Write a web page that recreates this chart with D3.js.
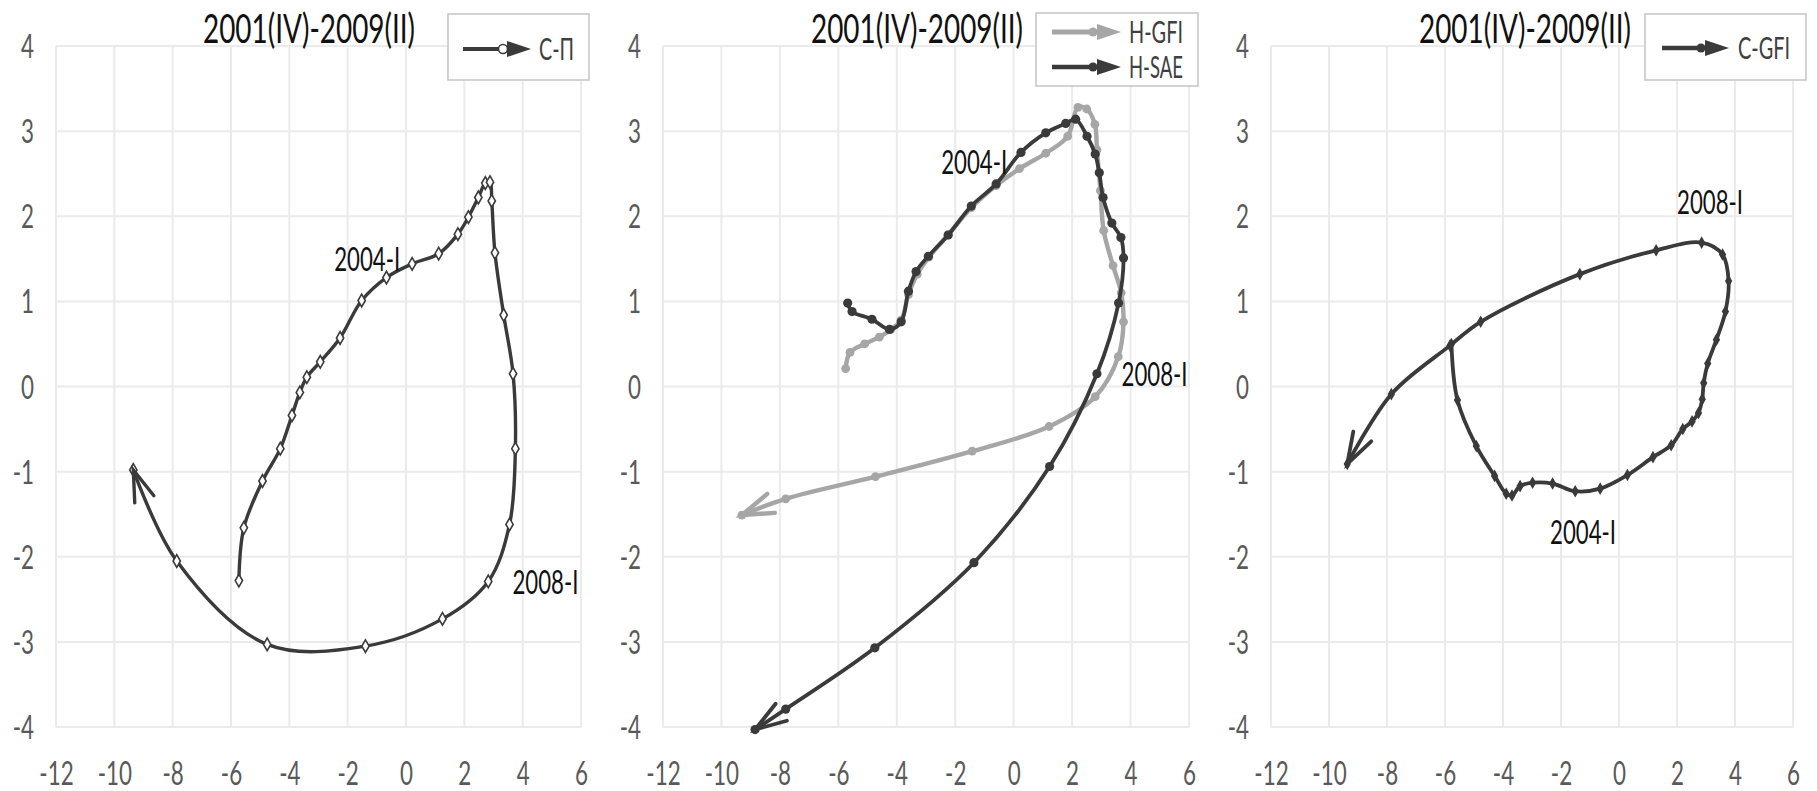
<!DOCTYPE html>
<html><head><meta charset="utf-8">
<script src="https://cdn.jsdelivr.net/npm/d3@7"></script>
<style>html,body{margin:0;padding:0;background:#fff;} svg{display:block;}</style>
</head><body>
<svg id="chart" width="1817" height="791"></svg>
<script>
// ---------- data ----------
const xTicks = [-12,-10,-8,-6,-4,-2,0,2,4,6];
const yTicks = [-4,-3,-2,-1,0,1,2,3,4];
const periodTitle = "2001(IV)-2009(II)";

// Panel 1: С-П
const cpX = [-5.73,-5.56,-4.92,-4.31,-3.91,-3.64,-3.40,-2.94,-2.26,-1.52,-0.67,0.21,1.12,1.78,2.14,2.48,2.72,2.88,2.94,3.05,3.35,3.67,3.75,3.55,2.82,1.25,-1.39,-4.76,-7.86,-9.35];
const cpY = [-2.28,-1.66,-1.11,-0.73,-0.34,-0.07,0.11,0.29,0.57,1.01,1.28,1.44,1.56,1.79,1.99,2.22,2.39,2.40,2.18,1.57,0.84,0.15,-0.73,-1.62,-2.29,-2.73,-3.05,-3.03,-2.05,-0.98];

// Panel 2: H-GFI (grey) and H-SAE (dark)
const hgfiX = [-5.75,-5.60,-5.10,-4.60,-4.20,-3.85,-3.60,-3.30,-2.90,-2.25,-1.45,-0.60,0.20,1.10,1.85,2.20,2.50,2.78,2.85,2.97,3.08,3.40,3.68,3.76,3.58,2.79,1.21,-1.42,-4.73,-7.80,-9.30];
const hgfiY = [0.21,0.40,0.50,0.58,0.67,0.78,1.08,1.32,1.52,1.78,2.10,2.36,2.56,2.74,2.94,3.28,3.26,3.08,2.78,2.30,1.83,1.42,1.10,0.76,0.35,-0.12,-0.47,-0.76,-1.06,-1.32,-1.51];
const hsaeX = [-5.68,-5.53,-4.85,-4.25,-3.85,-3.60,-3.34,-2.92,-2.24,-1.45,-0.60,0.25,1.10,1.78,2.12,2.51,2.79,2.93,3.06,3.36,3.67,3.76,3.59,2.85,1.23,-1.36,-4.75,-7.80,-8.85];
const hsaeY = [0.98,0.88,0.79,0.67,0.76,1.12,1.35,1.53,1.78,2.12,2.38,2.75,2.98,3.09,3.14,2.94,2.73,2.51,2.22,1.92,1.75,1.51,0.98,0.15,-0.94,-2.07,-3.07,-3.79,-4.03];

// Panel 3: C-GFI
const cgfiX = [-5.78,-5.57,-4.92,-4.29,-3.89,-3.69,-3.41,-2.98,-2.29,-1.51,-0.65,0.29,1.17,1.80,2.20,2.52,2.74,2.87,2.92,3.06,3.36,3.67,3.78,3.57,2.85,1.28,-1.35,-4.77,-5.83,-7.85,-9.37];
const cgfiY = [0.50,-0.16,-0.70,-1.05,-1.26,-1.28,-1.17,-1.13,-1.14,-1.23,-1.20,-1.04,-0.83,-0.69,-0.50,-0.41,-0.31,-0.15,0.04,0.27,0.55,0.88,1.24,1.55,1.69,1.60,1.32,0.76,0.48,-0.09,-0.91];

const seriesNames = ["С-П","H-GFI","H-SAE","C-GFI"];
const labels = ["2004-I","2008-I"];

// ---------- layout ----------
const DARK = "#3a3a3a", GREY = "#a6a6a6";
const FONT = "Lato, 'Open Sans', sans-serif";
const panels = [
  {x0:56, x1:581, titleX:309,
   legend:{x:448,y:14,w:141,h:66, lx0:463, tip:531, tx:539, rows:[49]},
   series:[{name:seriesNames[0], xs:cpX, ys:cpY, color:DARK, width:3.4, marker:"open", r:3.3}],
   notes:[{t:labels[0], x:-1.33, y:1.49},{t:labels[1], x:4.78, y:-2.30}], legendW:[35]},
  {x0:663, x1:1189, titleX:917,
   legend:{x:1036,y:13,w:162,h:73, lx0:1052, tip:1121, tx:1129, rows:[32,67]},
   series:[{name:seriesNames[1], xs:hgfiX, ys:hgfiY, color:GREY, width:4.4, marker:"fill", r:4.4},
           {name:seriesNames[2], xs:hsaeX, ys:hsaeY, color:DARK, width:3.8, marker:"fill", r:4.6}],
   notes:[{t:labels[0], x:-1.35, y:2.63},{t:labels[1], x:4.82, y:0.14}], legendW:[54,54]},
  {x0:1271, x1:1793, titleX:1525,
   legend:{x:1645,y:14,w:161,h:66, lx0:1662, tip:1729, tx:1738, rows:[48]},
   series:[{name:seriesNames[3], xs:cgfiX, ys:cgfiY, color:DARK, width:3.8, marker:"diamond", r:3.5}],
   notes:[{t:labels[1], x:3.14, y:2.16},{t:labels[0], x:-1.24, y:-1.72}], legendW:[52]}
];

const svg = d3.select("#chart");
svg.append("rect").attr("width",1817).attr("height",791).attr("fill","#fff");

function squeezeRatio(sel, ratio){
  sel.each(function(){
    const w = this.getComputedTextLength();
    d3.select(this).attr("textLength", w*ratio).attr("lengthAdjust","spacingAndGlyphs");
  });
}
function squeezeTo(sel, width){
  sel.attr("textLength", width).attr("lengthAdjust","spacingAndGlyphs");
}

panels.forEach(p => {
  const g = svg.append("g");
  const x = d3.scaleLinear().domain([-12,6]).range([p.x0,p.x1]);
  const y = d3.scaleLinear().domain([-4,4]).range([727,46]);

  // grid
  g.append("g").selectAll("line").data(xTicks).join("line")
    .attr("x1",d=>x(d)).attr("x2",d=>x(d)).attr("y1",y(4)).attr("y2",y(-4))
    .attr("stroke","#ebebeb").attr("stroke-width",2);
  g.append("g").selectAll("line").data(yTicks).join("line")
    .attr("y1",d=>y(d)).attr("y2",d=>y(d)).attr("x1",x(-12)).attr("x2",x(6))
    .attr("stroke","#ebebeb").attr("stroke-width",2);

  // axes
  const ax = g.append("g").attr("transform","translate(0,773)")
    .call(d3.axisBottom(x).tickValues(xTicks).tickSize(0).tickPadding(0).tickFormat(d=>String(d)));
  ax.select(".domain").remove();
  ax.selectAll("text").attr("y",0).attr("dy","0.36em")
    .attr("fill","#595959").style("font-family",FONT).style("font-size","32px");
  squeezeRatio(ax.selectAll("text"), 0.70);

  const ay = g.append("g").attr("transform",`translate(${p.x0},0)`)
    .call(d3.axisLeft(y).tickValues(yTicks).tickSize(0).tickPadding(22).tickFormat(d=>String(d)));
  ay.select(".domain").remove();
  ay.selectAll("text").attr("dy","0.36em")
    .attr("fill","#595959").style("font-family",FONT).style("font-size","32px");
  squeezeRatio(ay.selectAll("text"), 0.70);

  // series
  const line = d3.line().x(d=>x(d[0])).y(d=>y(d[1])).curve(d3.curveCatmullRom.alpha(0.5));
  p.series.forEach(s => {
    const pts = s.xs.map((v,i)=>[v, s.ys[i]]);
    const path = g.append("path").datum(pts).attr("d",line)
      .attr("fill","none").attr("stroke",s.color).attr("stroke-width",s.width)
      .attr("stroke-linejoin","round").attr("stroke-linecap","round");
    // markers
    const mk = g.append("g");
    if (s.marker === "open") {
      mk.selectAll("path").data(pts).join("path")
        .attr("d", d3.symbol(d3.symbolDiamond, 46))
        .attr("transform",d=>`translate(${x(d[0])},${y(d[1])})`)
        .attr("fill","#fff").attr("stroke",s.color).attr("stroke-width",1.6);
    } else if (s.marker === "fill") {
      mk.selectAll("circle").data(pts).join("circle")
        .attr("cx",d=>x(d[0])).attr("cy",d=>y(d[1])).attr("r",s.r)
        .attr("fill",s.color);
    } else {
      mk.selectAll("path").data(pts).join("path")
        .attr("d", d3.symbol(d3.symbolDiamond, 46))
        .attr("transform",d=>`translate(${x(d[0])},${y(d[1])})`)
        .attr("fill",s.color);
    }
    // arrow head at end
    const node = path.node();
    const L = node.getTotalLength();
    const a = node.getPointAtLength(L), b = node.getPointAtLength(Math.max(0,L-8));
    const ang = Math.atan2(b.y - a.y, b.x - a.x);
    const len = 33, spread = 18*Math.PI/180;
    const p1 = [a.x + len*Math.cos(ang+spread), a.y + len*Math.sin(ang+spread)];
    const p2 = [a.x + len*Math.cos(ang-spread), a.y + len*Math.sin(ang-spread)];
    g.append("path").attr("d",`M${p1[0]},${p1[1]}L${a.x},${a.y}L${p2[0]},${p2[1]}`)
      .attr("fill","none").attr("stroke",s.color).attr("stroke-width",s.width)
      .attr("stroke-linejoin","miter").attr("stroke-linecap","round");
  });

  // annotations
  p.notes.forEach(n => {
    const t = g.append("text").attr("x",x(n.x)).attr("y",y(n.y)).attr("dy","0.36em")
      .attr("text-anchor","middle").attr("fill","#111")
      .style("font-family",FONT).style("font-size","32px").text(n.t);
    squeezeTo(t, 66);
  });

  // title
  const tt = g.append("text").attr("x",p.titleX).attr("y",43).attr("text-anchor","middle")
    .attr("fill","#111").style("font-family",FONT).style("font-size","40px").text(periodTitle);
  squeezeTo(tt, 212);

  // legend
  const lg = p.legend;
  g.append("rect").attr("x",lg.x).attr("y",lg.y).attr("width",lg.w).attr("height",lg.h)
    .attr("fill","#fff").attr("stroke","#c8c8c8").attr("stroke-width",1.6);
  p.series.forEach((s,i) => {
    const cy = lg.rows[i];
    const tipX = lg.tip, triBase = tipX - 24, cx = triBase - 4;
    g.append("line").attr("x1",lg.lx0).attr("x2",triBase+2).attr("y1",cy).attr("y2",cy)
      .attr("stroke",s.color).attr("stroke-width",s.width+0.5);
    g.append("path").attr("d",`M${triBase},${cy-8}L${tipX},${cy}L${triBase},${cy+8}Z`)
      .attr("fill",s.color);
    if (s.marker === "open") {
      g.append("circle").attr("cx",cx).attr("cy",cy).attr("r",4.5)
        .attr("fill","#fff").attr("stroke",s.color).attr("stroke-width",1.6);
    } else {
      g.append("circle").attr("cx",cx).attr("cy",cy).attr("r",4.5).attr("fill",s.color);
    }
    const lt = g.append("text").attr("x",lg.tx).attr("y",cy).attr("dy","0.36em")
      .attr("fill","#404040").style("font-family",FONT).style("font-size","30px").text(s.name);
    squeezeTo(lt, p.legendW[i]);
  });
});
</script>
</body></html>
